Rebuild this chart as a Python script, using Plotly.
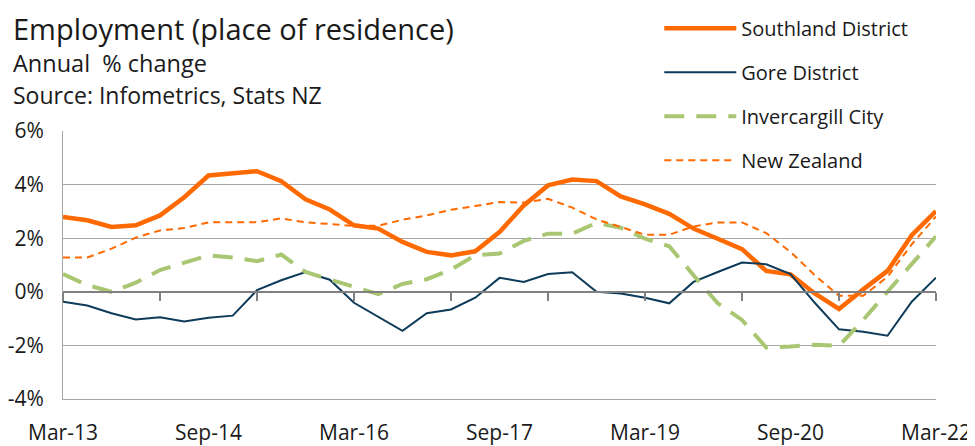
import plotly.graph_objects as go

quarters = ["Mar-13","Jun-13","Sep-13","Dec-13","Mar-14","Jun-14","Sep-14","Dec-14",
            "Mar-15","Jun-15","Sep-15","Dec-15","Mar-16","Jun-16","Sep-16","Dec-16",
            "Mar-17","Jun-17","Sep-17","Dec-17","Mar-18","Jun-18","Sep-18","Dec-18",
            "Mar-19","Jun-19","Sep-19","Dec-19","Mar-20","Jun-20","Sep-20","Dec-20",
            "Mar-21","Jun-21","Sep-21","Dec-21","Mar-22"]

southland = [2.79, 2.67, 2.42, 2.48, 2.85, 3.53, 4.34, 4.42, 4.50, 4.13, 3.45, 3.07,
             2.48, 2.36, 1.86, 1.49, 1.36, 1.51, 2.23, 3.22, 3.97, 4.19, 4.13, 3.56,
             3.26, 2.91, 2.36, 1.98, 1.59, 0.78, 0.65, -0.06, -0.64, 0.09, 0.78, 2.11, 3.01]
gore = [-0.37, -0.51, -0.80, -1.03, -0.95, -1.11, -0.97, -0.89, 0.06, 0.43, 0.74, 0.45,
        -0.41, -0.93, -1.46, -0.80, -0.66, -0.22, 0.52, 0.37, 0.66, 0.73, 0.00, -0.06,
        -0.22, -0.43, 0.37, 0.74, 1.09, 1.03, 0.66, -0.41, -1.40, -1.49, -1.64, -0.37, 0.53]
invercargill = [0.66, 0.25, 0.00, 0.34, 0.81, 1.08, 1.36, 1.28, 1.14, 1.39, 0.74, 0.46,
                0.19, -0.09, 0.29, 0.47, 0.83, 1.36, 1.43, 1.90, 2.17, 2.17, 2.57, 2.39,
                1.98, 1.70, 0.62, -0.43, -1.05, -2.08, -2.04, -1.98, -2.02, -1.05, 0.00, 1.05, 2.07]
new_zealand = [1.28, 1.28, 1.61, 2.02, 2.29, 2.38, 2.59, 2.59, 2.60, 2.74, 2.59, 2.53,
               2.46, 2.46, 2.69, 2.85, 3.06, 3.20, 3.35, 3.33, 3.47, 3.14, 2.70, 2.42,
               2.13, 2.13, 2.44, 2.59, 2.59, 2.19, 1.49, 0.62, -0.15, -0.15, 0.56, 1.77, 2.81]

x_label_idx = [0, 6, 12, 18, 24, 30, 36]
x_labels = [quarters[i] for i in x_label_idx]
x_tick_idx = list(range(0, 37, 4))
y_vals = [-4, -2, 0, 2, 4, 6]
y_labels = ["-4%", "-2%", "0%", "2%", "4%", "6%"]

x = list(range(len(quarters)))
FONT = "Open Sans"
ORANGE = "#FF6A00"
NAVY = "#0E3B59"
GREEN = "#A9C772"
GRID = "#A6A6A6"

fig = go.Figure()
fig.add_trace(go.Scatter(x=x, y=southland, name="Southland District", mode="lines",
                         line=dict(color=ORANGE, width=4.5), legendgroup="a"))
fig.add_trace(go.Scatter(x=x, y=gore, name="Gore District", mode="lines",
                         line=dict(color=NAVY, width=2), legendgroup="b"))
fig.add_trace(go.Scatter(x=x, y=invercargill, name="Invercargill City", mode="lines",
                         line=dict(color=GREEN, width=4, dash="20px,12px"), legendgroup="c"))
fig.add_trace(go.Scatter(x=x, y=new_zealand, name="New Zealand", mode="lines", xaxis="x2",
                         line=dict(color=ORANGE, width=2, dash="7px,5px"), legendgroup="d"))

# The page body has an 8px margin, so the figure is sized to fill the rest of the window.
fig.update_layout(
    width=967, height=438,
    margin=dict(l=55, r=39, t=123, b=47, autoexpand=False),
    paper_bgcolor="white", plot_bgcolor="white",
    font=dict(family=FONT, color="#1a1a1a"),
    showlegend=True,
    legend=dict(x=0.683, y=1.456, xanchor="left", yanchor="top",
                bgcolor="white", font=dict(size=20, family=FONT),
                tracegroupgap=15, traceorder="grouped", itemwidth=72),
    xaxis=dict(range=[0, 36], tickvals=x_label_idx, ticktext=x_labels,
               showgrid=False, zeroline=False, ticks="", showline=True,
               linecolor=GRID, linewidth=1, tickfont=dict(size=21, family=FONT),
               ticklabelstandoff=15, automargin=False),
    xaxis2=dict(range=[0, 36], overlaying="x", anchor="free", position=0.4,
                tickvals=x_tick_idx, showticklabels=False, ticks="outside",
                ticklen=8, tickcolor="#808080", tickwidth=1.5, showgrid=False,
                zeroline=False, showline=True, linecolor="#808080", linewidth=1.5,
                automargin=False),
    yaxis=dict(range=[-4, 6], tickvals=y_vals, ticktext=y_labels,
               showgrid=True, gridcolor=GRID, gridwidth=1,
               zeroline=False, showline=True, linecolor=GRID, linewidth=1,
               ticks="", tickfont=dict(size=21, family=FONT), ticklabelstandoff=14,
               automargin=False),
)

fig.add_annotation(text="Employment (place of residence)", xref="paper", yref="paper",
                   x=-0.06, y=1.383, xanchor="left", yanchor="middle", showarrow=False,
                   font=dict(size=29, family=FONT))
fig.add_annotation(text="Annual  % change", xref="paper", yref="paper",
                   x=-0.06, y=1.252, xanchor="left", yanchor="middle", showarrow=False,
                   font=dict(size=23.5, family=FONT))
fig.add_annotation(text="Source: Infometrics, Stats NZ", xref="paper", yref="paper",
                   x=-0.06, y=1.134, xanchor="left", yanchor="middle", showarrow=False,
                   font=dict(size=23, family=FONT))

fig.write_html("out.html")
